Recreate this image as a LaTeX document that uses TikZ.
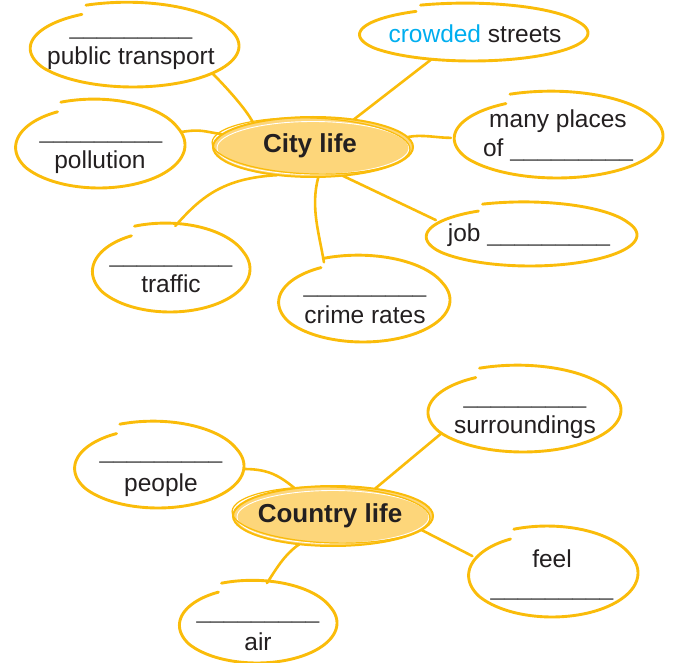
\documentclass[tikz,border=0pt]{standalone}
\usepackage{fontspec}
\setmainfont{Liberation Sans}
\usetikzlibrary{shapes.geometric}

\definecolor{mapyellow}{RGB}{250,188,10}
\definecolor{hubfill}{RGB}{253,214,122}
\definecolor{ink}{RGB}{35,31,32}
\definecolor{sky}{RGB}{0,174,239}
\definecolor{blankgray}{RGB}{85,85,85}

\tikzset{
  spot/.style={ellipse, inner sep=0pt},
  rim/.style={draw=mapyellow, line width=2.9pt, line cap=round},
  link/.style={draw=mapyellow, line width=2.6pt, line cap=round},
  word/.style={font=\fontsize{24.5}{29}\selectfont, text=ink, inner sep=0pt, anchor=base},
  blank/.style={word, text=blankgray},
  hubword/.style={font=\fontsize{26}{30}\selectfont\bfseries, text=ink, inner sep=0pt, anchor=base},
}

% hand-drawn oval: name, x, y, x radius, y radius
\newcommand\mapspot[5]{%
  \node[spot, minimum width=2*#4, minimum height=2*#5] (#1) at (#2,#3) {};
  \draw[rim, shift={(#1.center)}] plot[domain=0:352, samples=140, variable=\t]
    ({#4*(1+0.09*max(0,1-\t/90)-0.09*max(0,(\t-262)/90))*cos(\t-114)},
     {#5*(1+0.09*max(0,1-\t/90)-0.09*max(0,(\t-262)/90))*sin(\t-114)});
}

% filled central oval with layered strokes: name, x, y
\newcommand\hubspot[3]{%
  \node[spot, minimum width=200, minimum height=60] (#1) at (#2,#3) {};
  \fill[hubfill, shift={(#1.center)}] (0,0) ellipse [x radius=100, y radius=30];
  \draw[white, line width=0.9pt, shift={(#1.center)}] (0,1) ellipse [x radius=96, y radius=26.5];
  \draw[mapyellow, line width=2pt, shift={(#1.center)}] (0,0) ellipse [x radius=100, y radius=30];
  \draw[mapyellow, line width=1.2pt, shift={(#1.center)}, rotate=-2] (-2,-1) ellipse [x radius=99, y radius=28];
}

\newcommand\blankline{\_\_\_\_\_\_\_\_\_}

\begin{document}
\begin{tikzpicture}[x=1pt,y=-1pt]
\useasboundingbox (0,0) rectangle (673,663);

% ---------- City life ----------
\mapspot{pub}{133}{46}{106}{41}
\mapspot{crowd}{472}{33}{116}{28}
\mapspot{many}{557}{136}{106}{42}
\mapspot{poll}{99}{145}{86}{43}
\mapspot{job}{530}{235}{107}{31}
\mapspot{traffic}{170}{269}{80}{43}
\mapspot{crime}{363}{300}{87}{42}

\node[spot, minimum width=200, minimum height=60] (city) at (313,147) {};

\draw[link] (city.158) .. controls +(-7,-14) and +(12,12) .. (pub.341);
\draw[link] (city.172) .. controls +(-20,-3) and +(20,-3) .. (poll.9);
\draw[link] (city.34) -- (crowd.213);
\draw[link] (city.6) .. controls +(15,-3) and +(-15,0) .. (many.181);
\draw[link] (city.316) -- (job.171);
\draw[link] (city.280) .. controls +(-8,30) and +(-5,-30) .. (crime.136);
\draw[link] (city.218) .. controls +(-55,3) and +(25,-28) .. (traffic.83);

\hubspot{cityhub}{313}{147}
\node[hubword] (cityw) at (310,153) {City life};

\node[blank] (pubb) at (131,35) {\blankline};
\node[word] (pubw) at (131,65) {public transport};
\node[word] (crowdw) at (475,43) {\textcolor{sky}{crowded} streets};
\node[word] (manyw) at (558,128) {many places};
\node[word] (manyo) at (558,157) {of \textcolor{blankgray}{\blankline}};
\node[blank] (pollb) at (101,139) {\blankline};
\node[word] (pollw) at (100,169) {pollution};
\node[word] (jobw) at (529,242) {job \textcolor{blankgray}{\blankline}};
\node[blank] (trafficb) at (171,263) {\blankline};
\node[word] (trafficw) at (171,293) {traffic};
\node[blank] (crimeb) at (365,293) {\blankline};
\node[word] (crimew) at (365,324) {crime rates};

% ---------- Country life ----------
\mapspot{surr}{523}{410}{98}{42}
\mapspot{people}{158}{466}{86}{42}
\mapspot{feel}{552}{573}{86}{44}
\mapspot{air}{257}{623}{80}{40}

\node[spot, minimum width=200, minimum height=60] (country) at (333,516) {};

\draw[link] (country.144) .. controls +(-15,-12) and +(25,0) .. (people.358);
\draw[link] (country.33) -- (surr.196);
\draw[link] (country.351) -- (feel.168);
\draw[link] (country.220) .. controls +(-15,10) and +(8,-12) .. (air.76);

\hubspot{countryhub}{333}{516}
\node[hubword] (countryw) at (330,522) {Country life};

\node[blank] (surrb) at (525,404) {\blankline};
\node[word] (surrw) at (525,434) {surroundings};
\node[blank] (peopleb) at (161,459) {\blankline};
\node[word] (peoplew) at (161,491) {people};
\node[word] (feelw) at (552,567) {feel};
\node[blank] (feelb) at (552,595) {\blankline};
\node[blank] (airb) at (258,618) {\blankline};
\node[word] (airw) at (258,650) {air};
\end{tikzpicture}
\end{document}
